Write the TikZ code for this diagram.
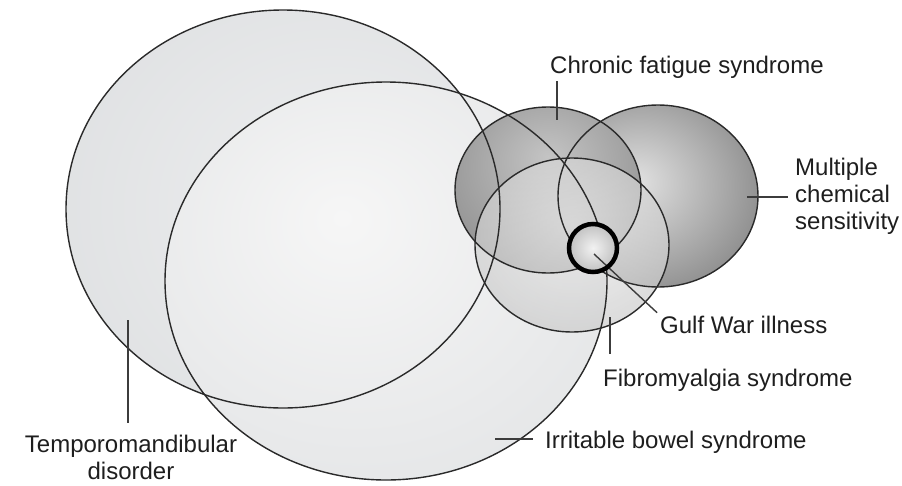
\documentclass[tikz,border=0pt]{standalone}
\usepackage{fontspec}
\setmainfont{Liberation Sans}
\usetikzlibrary{positioning}
\definecolor{rimgray}{HTML}{2A2A2A}
\definecolor{leadgray}{HTML}{3C3C3C}
\definecolor{labelgray}{HTML}{1E1E1E}
\definecolor{tmdin}{HTML}{EEEFF0}
\definecolor{tmdout}{HTML}{D8DADC}
\definecolor{ibsin}{HTML}{F6F6F6}
\definecolor{ibsout}{HTML}{DCDEE0}
\definecolor{cfsin}{HTML}{C4C4C4}
\definecolor{cfsout}{HTML}{767676}
\definecolor{mcsin}{HTML}{E2E2E2}
\definecolor{mcsout}{HTML}{585858}
\definecolor{fmsin}{HTML}{ECECEC}
\definecolor{fmsout}{HTML}{B4B4B4}
\definecolor{gwiin}{HTML}{F2F2F2}
\definecolor{gwiout}{HTML}{8C8C8C}
\pgfdeclareradialshading{tmdshade}{\pgfpoint{8bp}{0bp}}{color(0bp)=(tmdin); color(50bp)=(tmdout); color(75bp)=(tmdout)}
\pgfdeclareradialshading{ibsshade}{\pgfpoint{-5bp}{8bp}}{color(0bp)=(ibsin); color(50bp)=(ibsout); color(75bp)=(ibsout)}
\pgfdeclareradialshading{cfsshade}{\pgfpoint{0bp}{10bp}}{color(0bp)=(cfsin); color(50bp)=(cfsout); color(75bp)=(cfsout)}
\pgfdeclareradialshading{mcsshade}{\pgfpoint{-6bp}{4bp}}{color(0bp)=(mcsin); color(50bp)=(mcsout); color(75bp)=(mcsout)}
\pgfdeclareradialshading{fmsshade}{\pgfpoint{0bp}{6bp}}{color(0bp)=(fmsin); color(50bp)=(fmsout); color(75bp)=(fmsout)}
\pgfdeclareradialshading{gwishade}{\pgfpoint{0bp}{0bp}}{color(0bp)=(gwiin); color(50bp)=(gwiout); color(75bp)=(gwiout)}

\begin{document}
\begin{tikzpicture}[x=1pt,y=-1pt,
    rim/.style={draw=rimgray,line width=1.4pt},
    leader/.style={draw=leadgray,line width=1.4pt},
    lbl/.style={inner sep=0pt,text=labelgray,font=\fontsize{24}{27}\selectfont}]
  \useasboundingbox (0,0) rectangle (902,485);
  % centres of the syndromes
  \coordinate (tmd) at (283,209);
  \coordinate (ibs) at (386,281);
  \coordinate (cfs) at (548,190);
  \coordinate (mcs) at (658,196);
  \coordinate (fms) at (572,245);
  \coordinate (gwi) at (593,248);

  \shade[shading=tmdshade] (tmd) ellipse [x radius=217,y radius=199];
  \shade[shading=ibsshade] (ibs) ellipse [x radius=221,y radius=199];
  \shade[shading=mcsshade] (mcs) ellipse [x radius=100,y radius=91];
  \shade[shading=cfsshade] (cfs) ellipse [x radius=93,y radius=83];
  \shade[shading=fmsshade,fill opacity=0.7] (fms) ellipse [x radius=97,y radius=87];

  \draw[rim] (tmd) ellipse [x radius=217,y radius=199];
  \draw[rim] (ibs) ellipse [x radius=221,y radius=199];
  \draw[rim] (mcs) ellipse [x radius=100,y radius=91];
  \draw[rim] (cfs) ellipse [x radius=93,y radius=83];
  \draw[rim] (fms) ellipse [x radius=97,y radius=87];

  \shade[shading=gwishade] (gwi) circle [radius=25];

  % labels
  \node[lbl,anchor=base west] (cfsl) at (550,73) {Chronic fatigue syndrome};
  \node[lbl,anchor=north west,align=left] (mcsl) at (795,157.5) {Multiple\\chemical\\sensitivity};
  \node[lbl,anchor=base west] (gwil) at (660,333) {Gulf War illness};
  \node[lbl,anchor=base west] (fmsl) at (603,386) {Fibromyalgia syndrome};
  \node[lbl,anchor=base west] (ibsl) at (545,448) {Irritable bowel syndrome};
  \node[lbl,anchor=north,align=center] (tmdl) at (131,435) {Temporomandibular\\disorder};

  % leader ends
  \coordinate (cfsp) at (557,120);
  \coordinate (mcsp) at (747,197);
  \coordinate (gwip) at (594,254);
  \coordinate (fmsp) at (610,317);
  \coordinate (ibsp) at (495,439);
  \coordinate (tmdp) at (128,320);

  \draw[leader,shorten <=3pt] (cfsl.south -| cfsp) -- (cfsp);
  \draw[leader,shorten >=7pt] (mcsp) -- (mcsp -| mcsl.west);
  \draw[leader,shorten >=4pt] (gwip) -- (gwil.north west);
  \draw[leader,shorten >=14pt] (fmsp) -- (fmsp |- fmsl.north);
  \draw[leader,shorten >=12pt] (ibsp) -- (ibsp -| ibsl.west);
  \draw[leader,shorten >=12pt] (tmdp) -- (tmdp |- tmdl.north);

  \draw[draw=black,line width=4.5pt] (gwi) circle [radius=24];
\end{tikzpicture}
\end{document}
